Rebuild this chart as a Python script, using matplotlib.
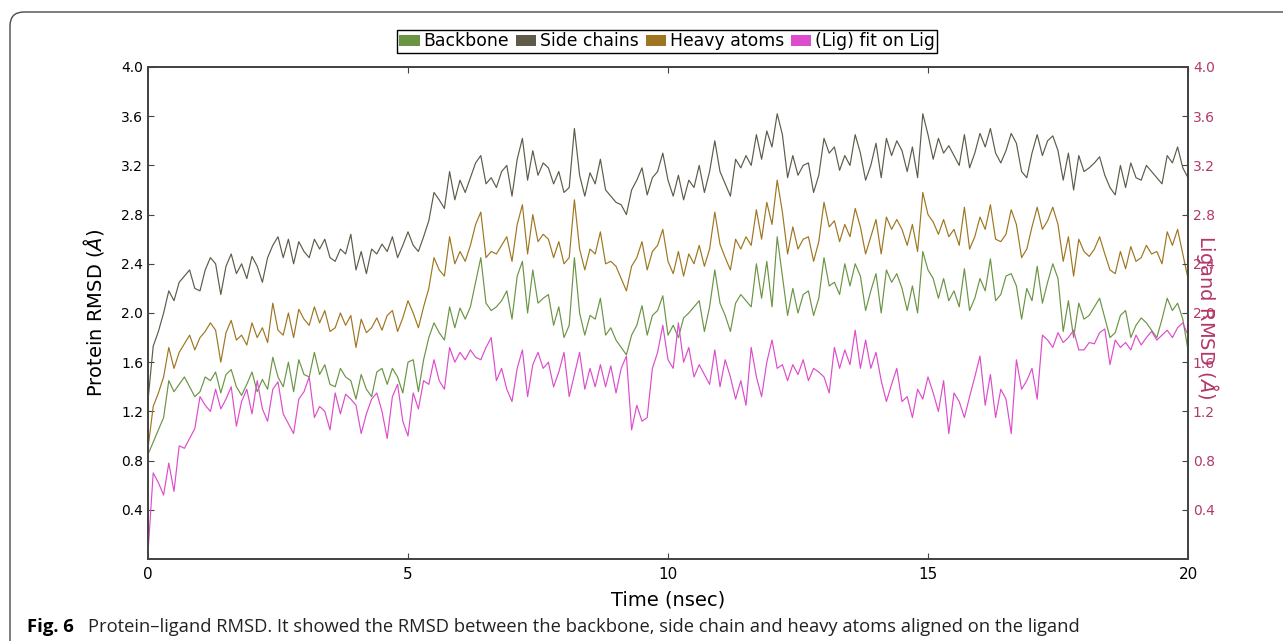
import numpy as np
import matplotlib
matplotlib.use("Agg")
import matplotlib.pyplot as plt
from matplotlib.patches import Patch, FancyBboxPatch
from matplotlib.transforms import IdentityTransform

# RMSD traces, one value every 0.1 ns (0-20 ns)
backbone = [
    0.85, 0.95, 1.05, 1.15, 1.45, 1.36, 1.42, 1.48, 1.40, 1.32,
    1.36, 1.48, 1.45, 1.52, 1.35, 1.50, 1.54, 1.40, 1.33, 1.42,
    1.52, 1.36, 1.46, 1.38, 1.64, 1.48, 1.40, 1.60, 1.36, 1.62,
    1.50, 1.48, 1.68, 1.50, 1.58, 1.42, 1.40, 1.55, 1.48, 1.45,
    1.30, 1.50, 1.38, 1.32, 1.52, 1.55, 1.42, 1.55, 1.48, 1.35,
    1.60, 1.62, 1.36, 1.62, 1.80, 1.92, 1.84, 1.78, 2.05, 1.88,
    2.04, 1.95, 2.05, 2.25, 2.45, 2.08, 2.02, 2.05, 2.10, 2.18,
    1.95, 2.30, 2.42, 2.00, 2.35, 2.08, 2.12, 2.15, 1.90, 2.05,
    1.80, 1.90, 2.45, 2.00, 1.82, 1.98, 1.95, 2.12, 1.82, 1.88,
    1.78, 1.72, 1.66, 1.82, 1.90, 2.06, 1.82, 1.98, 2.02, 2.14,
    1.82, 1.90, 1.80, 1.96, 2.00, 2.05, 2.10, 1.85, 2.05, 2.35,
    2.08, 1.98, 1.85, 2.08, 2.15, 2.10, 2.05, 2.40, 2.12, 2.42,
    2.05, 2.62, 2.30, 1.98, 2.20, 2.00, 2.15, 2.18, 1.98, 2.12,
    2.45, 2.22, 2.25, 2.15, 2.40, 2.22, 2.40, 2.30, 2.02, 2.18,
    2.32, 2.00, 2.35, 2.25, 2.32, 2.20, 2.02, 2.22, 2.00, 2.50,
    2.35, 2.28, 2.12, 2.28, 2.10, 2.18, 2.05, 2.36, 2.02, 2.12,
    2.28, 2.18, 2.44, 2.10, 2.15, 2.30, 2.32, 2.22, 1.95, 2.20,
    2.10, 2.38, 2.08, 2.25, 2.40, 2.28, 1.85, 2.10, 1.80, 2.08,
    1.95, 1.98, 2.05, 2.12, 1.96, 1.80, 1.84, 1.98, 2.02, 1.80,
    1.90, 1.96, 1.92, 1.86, 1.80, 1.95, 2.12, 2.02, 2.08, 1.95,
    1.70,
]
side_chains = [
    1.29, 1.73, 1.85, 2.00, 2.18, 2.10, 2.25, 2.30, 2.35, 2.20,
    2.18, 2.35, 2.45, 2.40, 2.15, 2.38, 2.48, 2.32, 2.40, 2.28,
    2.46, 2.38, 2.25, 2.45, 2.55, 2.62, 2.45, 2.60, 2.40, 2.58,
    2.50, 2.45, 2.60, 2.52, 2.60, 2.45, 2.42, 2.52, 2.48, 2.64,
    2.35, 2.50, 2.32, 2.52, 2.48, 2.56, 2.50, 2.62, 2.45, 2.55,
    2.66, 2.55, 2.50, 2.62, 2.75, 2.98, 2.92, 2.85, 3.15, 2.92,
    3.08, 2.98, 3.10, 3.22, 3.28, 3.05, 3.10, 3.02, 3.15, 3.20,
    2.95, 3.25, 3.42, 3.08, 3.32, 3.12, 3.22, 3.18, 3.05, 3.15,
    2.98, 3.02, 3.50, 3.12, 2.95, 3.14, 3.05, 3.25, 3.00, 2.95,
    2.90, 2.88, 2.80, 3.00, 3.08, 3.18, 2.96, 3.10, 3.15, 3.30,
    3.08, 2.95, 3.12, 2.92, 3.08, 3.02, 3.20, 2.98, 3.15, 3.40,
    3.15, 3.05, 2.95, 3.25, 3.18, 3.28, 3.20, 3.45, 3.25, 3.48,
    3.35, 3.62, 3.45, 3.10, 3.28, 3.12, 3.20, 3.22, 2.98, 3.12,
    3.42, 3.30, 3.35, 3.16, 3.28, 3.20, 3.45, 3.30, 3.08, 3.20,
    3.38, 3.10, 3.42, 3.28, 3.40, 3.32, 3.15, 3.35, 3.10, 3.62,
    3.45, 3.25, 3.42, 3.30, 3.36, 3.28, 3.20, 3.45, 3.18, 3.30,
    3.46, 3.35, 3.50, 3.30, 3.22, 3.32, 3.46, 3.38, 3.15, 3.10,
    3.30, 3.45, 3.28, 3.40, 3.44, 3.32, 3.08, 3.30, 3.00, 3.28,
    3.15, 3.18, 3.22, 3.27, 3.12, 3.02, 2.96, 3.20, 3.02, 3.22,
    3.10, 3.08, 3.20, 3.15, 3.10, 3.05, 3.28, 3.22, 3.35, 3.18,
    3.10,
]
heavy_atoms = [
    0.90, 1.24, 1.35, 1.48, 1.72, 1.55, 1.68, 1.75, 1.82, 1.70,
    1.80, 1.85, 1.92, 1.86, 1.60, 1.84, 1.94, 1.78, 1.82, 1.74,
    1.92, 1.80, 1.88, 1.76, 2.08, 1.86, 1.82, 2.00, 1.80, 2.03,
    1.95, 1.90, 2.05, 1.92, 2.02, 1.85, 1.88, 2.00, 1.90, 1.98,
    1.72, 1.95, 1.84, 1.88, 1.96, 1.86, 1.98, 2.02, 1.85, 1.96,
    2.10, 2.00, 1.88, 2.05, 2.20, 2.45, 2.35, 2.30, 2.62, 2.40,
    2.50, 2.42, 2.55, 2.72, 2.82, 2.45, 2.50, 2.48, 2.55, 2.62,
    2.42, 2.72, 2.88, 2.48, 2.80, 2.58, 2.64, 2.60, 2.45, 2.58,
    2.40, 2.45, 2.92, 2.52, 2.35, 2.52, 2.48, 2.66, 2.40, 2.42,
    2.38, 2.28, 2.18, 2.38, 2.45, 2.58, 2.35, 2.50, 2.55, 2.68,
    2.42, 2.32, 2.50, 2.30, 2.48, 2.40, 2.55, 2.38, 2.52, 2.82,
    2.56, 2.45, 2.35, 2.60, 2.52, 2.62, 2.55, 2.84, 2.60, 2.90,
    2.72, 3.08, 2.82, 2.48, 2.70, 2.52, 2.60, 2.62, 2.42, 2.58,
    2.90, 2.70, 2.75, 2.58, 2.72, 2.62, 2.85, 2.70, 2.48, 2.62,
    2.76, 2.48, 2.78, 2.68, 2.76, 2.68, 2.55, 2.72, 2.50, 2.98,
    2.80, 2.74, 2.64, 2.76, 2.62, 2.68, 2.55, 2.86, 2.52, 2.62,
    2.78, 2.68, 2.88, 2.60, 2.58, 2.64, 2.84, 2.72, 2.45, 2.52,
    2.70, 2.86, 2.68, 2.75, 2.86, 2.72, 2.42, 2.62, 2.30, 2.60,
    2.50, 2.46, 2.52, 2.62, 2.48, 2.35, 2.32, 2.50, 2.36, 2.54,
    2.42, 2.45, 2.55, 2.48, 2.50, 2.40, 2.66, 2.55, 2.68, 2.48,
    2.28,
]
ligand = [
    0.05, 0.70, 0.62, 0.52, 0.78, 0.55, 0.92, 0.90, 0.98, 1.06,
    1.32, 1.25, 1.20, 1.38, 1.22, 1.30, 1.40, 1.08, 1.28, 1.38,
    1.18, 1.45, 1.22, 1.12, 1.38, 1.44, 1.18, 1.10, 1.02, 1.30,
    1.36, 1.48, 1.15, 1.24, 1.20, 1.05, 1.35, 1.18, 1.34, 1.30,
    1.25, 1.02, 1.18, 1.30, 1.35, 1.20, 0.98, 1.32, 1.42, 1.12,
    1.00, 1.35, 1.22, 1.45, 1.42, 1.62, 1.45, 1.38, 1.72, 1.60,
    1.68, 1.62, 1.70, 1.64, 1.62, 1.72, 1.80, 1.45, 1.55, 1.38,
    1.28, 1.55, 1.70, 1.32, 1.58, 1.68, 1.55, 1.60, 1.40, 1.52,
    1.68, 1.32, 1.50, 1.68, 1.38, 1.55, 1.40, 1.58, 1.40, 1.57,
    1.35, 1.55, 1.65, 1.05, 1.25, 1.12, 1.15, 1.55, 1.68, 1.90,
    1.62, 1.55, 1.92, 1.60, 1.72, 1.48, 1.58, 1.50, 1.42, 1.70,
    1.40, 1.62, 1.48, 1.30, 1.45, 1.25, 1.72, 1.48, 1.32, 1.60,
    1.78, 1.55, 1.58, 1.45, 1.58, 1.50, 1.62, 1.45, 1.55, 1.52,
    1.48, 1.35, 1.72, 1.55, 1.70, 1.58, 1.86, 1.55, 1.78, 1.55,
    1.68, 1.45, 1.28, 1.42, 1.55, 1.28, 1.32, 1.15, 1.38, 1.30,
    1.48, 1.35, 1.20, 1.45, 1.02, 1.35, 1.28, 1.15, 1.32, 1.48,
    1.65, 1.25, 1.50, 1.15, 1.38, 1.30, 1.02, 1.62, 1.38, 1.45,
    1.55, 1.30, 1.82, 1.78, 1.72, 1.84, 1.76, 1.80, 1.86, 1.70,
    1.70, 1.76, 1.75, 1.84, 1.87, 1.58, 1.78, 1.72, 1.76, 1.70,
    1.82, 1.74, 1.80, 1.85, 1.78, 1.82, 1.86, 1.80, 1.88, 1.92,
    1.82,
]
time_ns = np.linspace(0, 20, len(backbone))

labels = ["Backbone", "Side chains", "Heavy atoms", "(Lig) fit on Lig"]
colors = ["#6b9444", "#5e5b48", "#9e7620", "#dd4ccc"]
lig_color = "#b3386a"
yticks = [0.4, 0.8, 1.2, 1.6, 2.0, 2.4, 2.8, 3.2, 3.6, 4.0]

fig = plt.figure(figsize=(12.83, 6.41), dpi=100)
ax = fig.add_axes([148 / 1283, 1 - 559 / 641, 1040 / 1283, 492 / 641])
ax2 = ax.twinx()

ax.plot(time_ns, backbone, color=colors[0], lw=0.85)
ax.plot(time_ns, side_chains, color=colors[1], lw=0.85)
ax.plot(time_ns, heavy_atoms, color=colors[2], lw=0.85)
ax2.plot(time_ns, ligand, color=colors[3], lw=0.85)

for a in (ax, ax2):
    a.set_xlim(0, 20)
    a.set_ylim(0, 4.0)
    a.set_yticks(yticks)
    for sp in a.spines.values():
        sp.set_color("#444444")
        sp.set_linewidth(1.3)

ax.set_xticks([0, 5, 10, 15, 20])
ax.tick_params(axis="both", direction="in", length=4, top=True, right=False,
               labelsize=10, color="#444444")
ax.tick_params(axis="x", labelsize=11, pad=6)
ax2.tick_params(axis="y", direction="in", length=4, labelsize=10,
                labelcolor=lig_color, color="#444444")

ax.set_xlabel("Time (nsec)", fontsize=14, labelpad=6)
ax.set_ylabel(r"Protein RMSD ($\AA$)", fontsize=14, labelpad=11)
# the ligand label sits over the right tick labels, as in the source figure
fig.text(1208 / 1283, 1 - 317 / 641, r"Ligand RMSD ($\AA$)", rotation=270,
         color=lig_color, fontsize=14, ha="center", va="center")

handles = [Patch(facecolor=c, edgecolor="none") for c in colors]
leg = fig.legend(handles, labels, loc="center", ncol=4,
                 bbox_to_anchor=(667 / 1283, 1 - 41.5 / 641), fontsize=12.4,
                 handlelength=1.2, handleheight=0.6, handletextpad=0.2,
                 columnspacing=0.4, borderpad=0.15, borderaxespad=0,
                 fancybox=False, framealpha=1)
leg.get_frame().set_edgecolor("black")
leg.get_frame().set_linewidth(1.0)

# outer rounded frame of the figure panel
fig.add_artist(FancyBboxPatch((10, -30), 1400, 659,
                              boxstyle="round,pad=0,rounding_size=14",
                              transform=IdentityTransform(), facecolor="none",
                              edgecolor="#4a4a4a", linewidth=1.0))

fig.text(27 / 1283, 1 - 627 / 641, "Fig. 6", fontsize=13.3, fontweight="bold",
         family="Open Sans", va="center")
fig.text(88 / 1283, 1 - 627 / 641,
         "Protein\u2013ligand RMSD. It showed the RMSD between the backbone, "
         "side chain and heavy atoms aligned on the ligand",
         fontsize=13.2, family="Open Sans", va="center", color="#222222")

fig.savefig("out.png", dpi=100)
